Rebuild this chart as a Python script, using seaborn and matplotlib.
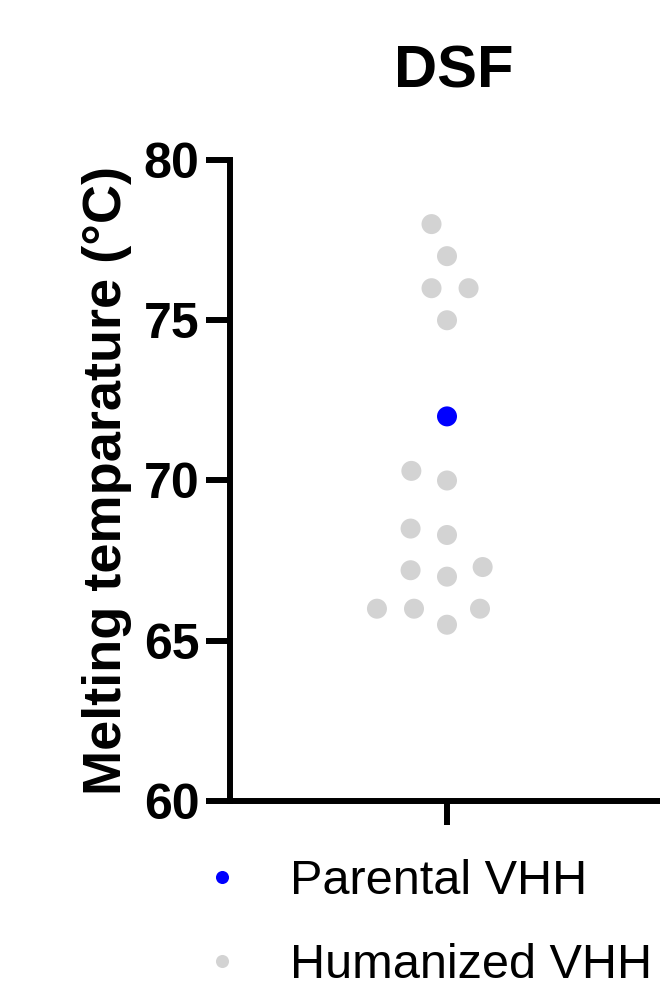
import matplotlib
matplotlib.use("Agg")
import matplotlib.pyplot as plt
import seaborn as sns
import pandas as pd
from matplotlib.lines import Line2D

# ---- data ----
assay = "DSF"
groups = ["Parental VHH", "Humanized VHH"]
parental_tm = [72.0]
humanized_tm = [78.0, 77.0, 76.0, 76.0, 75.0, 70.0, 70.3, 68.5, 68.3,
                67.3, 67.0, 67.2, 65.5, 66.0, 66.0, 66.0]
y_ticks = [60, 65, 70, 75, 80]
colors = {"Parental VHH": "#0000FF", "Humanized VHH": "#D3D3D3"}
y_label = "Melting temparature (°C)"

df = pd.DataFrame({
    "assay": assay,
    "group": [groups[0]] * len(parental_tm) + [groups[1]] * len(humanized_tm),
    "tm": parental_tm + humanized_tm,
})

sns.set_style("ticks")
plt.rcParams["font.family"] = ["Liberation Sans", "DejaVu Sans"]
plt.rcParams.update({"text.color": "black", "axes.labelcolor": "black",
                     "xtick.color": "black", "ytick.color": "black",
                     "axes.edgecolor": "black"})

fig = plt.figure(figsize=(6.6, 9.91), dpi=100)
ax = fig.add_axes([230 / 660, (991 - 801) / 991, 434 / 660, 641 / 991])

sns.swarmplot(data=df, x="assay", y="tm", hue="group", hue_order=groups,
              palette=colors, size=14.4, linewidth=11, legend=False, ax=ax)
for coll in ax.collections:
    coll.set_edgecolor("none")

ax.set_ylim(60, 80)
ax.set_yticks(y_ticks)
ax.set_xticks([0])
ax.set_xticklabels([""])
ax.set_xlabel("")
sns.despine(ax=ax)
for side in ["left", "bottom"]:
    ax.spines[side].set_linewidth(4.3)
    ax.spines[side].set_color("black")
    ax.spines[side].set_capstyle("projecting")
ax.tick_params(width=4.3, length=17, labelsize=36, pad=5, color="black",
               labelcolor="black")
for lbl in ax.get_yticklabels():
    lbl.set_fontweight("bold")

ax.set_ylabel(y_label, fontsize=39, fontweight="bold", color="black")
ax.yaxis.set_label_coords((132 - 230) / 434, 0.5)

fig.text(454 / 660, 1 - 88 / 991, assay, ha="center", va="baseline",
         fontsize=43, fontweight="bold", color="black")

handles = [Line2D([], [], marker="o", linestyle="none", markersize=9.4,
                  markerfacecolor=colors[g], markeredgecolor="none", label=g)
           for g in groups]
leg = fig.legend(handles=handles, loc="upper left",
                 bbox_to_anchor=(198 / 660, 1 - 859 / 991), frameon=False,
                 fontsize=35, handlelength=1.0, handletextpad=0.9,
                 labelspacing=0.8, borderpad=0, borderaxespad=0)
for t in leg.get_texts():
    t.set_color("black")

fig.savefig("out.png", dpi=100)
